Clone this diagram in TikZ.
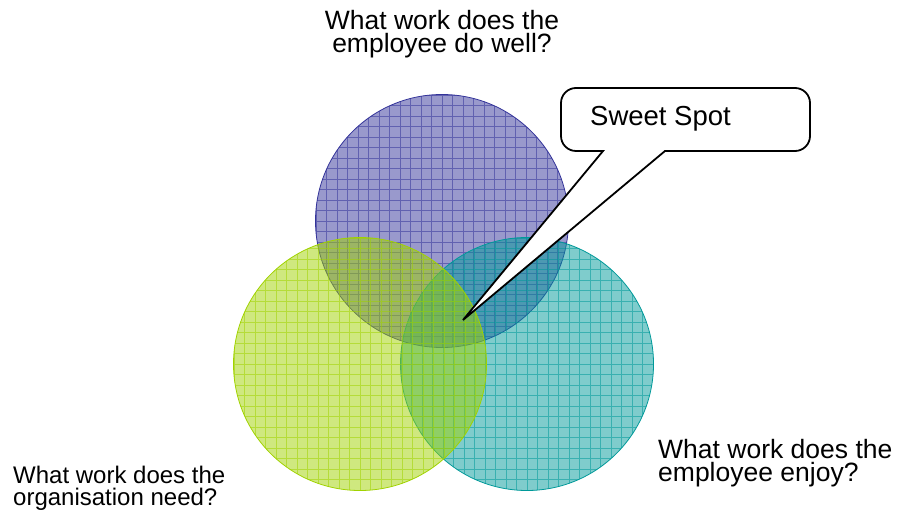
\documentclass[tikz,border=0pt]{standalone}
\usepackage{fontspec}
\setmainfont{Liberation Sans}
\begin{document}
\begin{tikzpicture}[x=1pt,y=-1pt]
\definecolor{cblue}{RGB}{51,51,153}
\definecolor{cgreen}{RGB}{160,210,0}
\definecolor{cteal}{RGB}{0,153,153}
\tikzset{
  venn/.style={circle, inner sep=0pt, minimum size=253pt, draw=#1, line width=0.8pt,
    fill=#1, fill opacity=0.5,
    path picture={\draw[#1, line width=0.7pt, draw opacity=0.55]
      (path picture bounding box.south west) grid[step=10.5pt] (path picture bounding box.north east);}},
  qtext/.style={inner sep=0pt, font=\fontsize{26.5}{23.5}\selectfont},
  callout/.style={draw=black, line width=1.8pt, fill=white, line join=miter}
}
\useasboundingbox (0,0) rectangle (897,510);
\node[venn=cblue] (well) at (442,221) {};
\node[venn=cteal] (enjoy) at (527,364) {};
\node[venn=cgreen] (need) at (360,364) {};
\coordinate (tip) at (463,320);
\draw[callout] (603,151) -- (tip) -- (665,151) [rounded corners=15pt] -- (810,151) -- (810,88) -- (561,88) -- (561,151) [sharp corners] -- cycle;
\node[inner sep=0pt, anchor=base west, font=\fontsize{27.5}{30}\selectfont] (sweet) at (590,126) {Sweet Spot};
\node[qtext, anchor=north, align=center] (q1) at (442,10) {What work does the\\employee do well?};
\node[qtext, anchor=north west, align=left] (q2) at (658,439) {What work does the\\employee enjoy?};
\node[inner sep=0pt, anchor=north west, align=left, font=\fontsize{24}{22}\selectfont] (q3) at (13,466) {What work does the\\organisation need?};
\end{tikzpicture}
\end{document}
